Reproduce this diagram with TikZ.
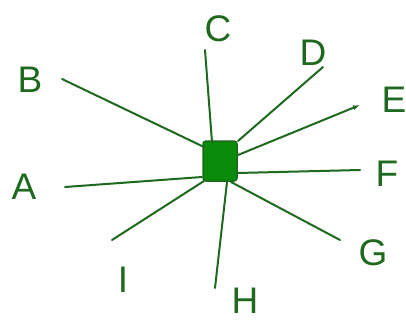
\documentclass[tikz,border=0pt]{standalone}
\usepackage{fontspec}
\setmainfont{Liberation Sans}
\usetikzlibrary{arrows.meta}
\definecolor{ink}{RGB}{30,105,30}
\definecolor{blob}{RGB}{10,140,10}
\tikzset{
  spoke/.style={draw=ink, line width=2pt, line cap=round},
  letter/.style={text=ink, font=\fontsize{37}{37}\selectfont, inner sep=0pt},
  hubstyle/.style={fill=blob, draw=ink, line width=1.5pt, rounded corners=3pt,
    minimum width=34pt, minimum height=40pt, inner sep=0pt}
}
\begin{document}
\begin{tikzpicture}[x=1pt,y=-1pt]
\useasboundingbox (0,0) rectangle (406,322);
\node[hubstyle] (hub) at (220,161) {};
% labels
\node[letter] (A) at (24,187) {A};
\node[letter] (B) at (30,80) {B};
\node[letter] (C) at (218,29) {C};
\node[letter] (D) at (313,53) {D};
\node[letter] (E) at (394,100) {E};
\node[letter] (F) at (387,174) {F};
\node[letter] (G) at (373,253) {G};
\node[letter] (H) at (245,301) {H};
\node[letter] (I) at (123,280) {I};
% free ends
\coordinate (a1) at (65,187);
\coordinate (b1) at (62,79);
\coordinate (c1) at (205,50);
\coordinate (d1) at (323,67);
\coordinate (e1) at (360,105);
\coordinate (f1) at (360,170);
\coordinate (g1) at (340,240);
\coordinate (h1) at (215,288);
\coordinate (i1) at (112,240);
\coordinate (a0) at (202,177);
\coordinate (b0) at (204,147);
\coordinate (c0) at (212,142);
\coordinate (d0) at (238,141);
\coordinate (e0) at (238,155);
\coordinate (f0) at (237,173);
\coordinate (g0) at (231,182);
\coordinate (h0) at (227,182);
\coordinate (i0) at (204,181);
\draw[spoke] (a0) -- (a1);
\draw[spoke] (b0) -- (b1);
\draw[spoke] (c0) -- (c1);
\draw[spoke] (d0) -- (d1);
\draw[spoke,-{Latex[length=7pt,width=5pt]}] (e0) -- (e1);
\draw[spoke] (f0) -- (f1);
\draw[spoke] (g0) -- (g1);
\draw[spoke] (h0) -- (h1);
\draw[spoke] (i0) -- (i1);
\end{tikzpicture}
\end{document}
